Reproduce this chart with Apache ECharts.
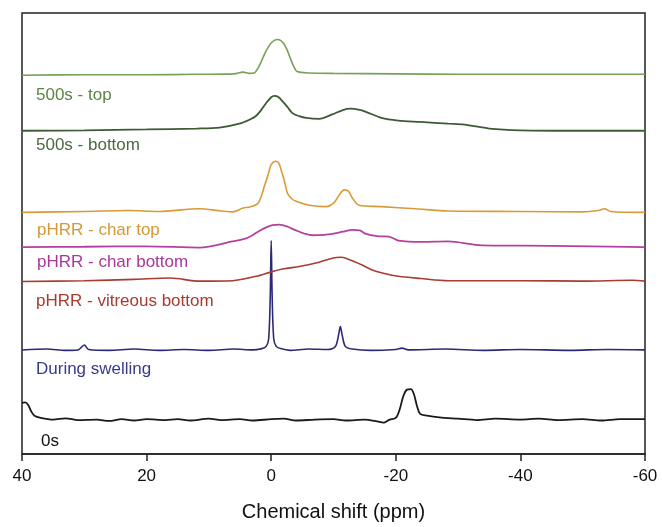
<!DOCTYPE html>
<html><head><meta charset="utf-8">
<script src="https://cdn.jsdelivr.net/npm/echarts@6/dist/echarts.min.js"></script>
<style>html,body{margin:0;padding:0;background:#fff;overflow:hidden}#c{width:662px;height:527px}</style>
</head><body><div id="c"></div>
<script>
// Chemical shift (ppm) vs stacked intensity (arbitrary units, 0-100 display scale)
const xTicks = [40, 20, 0, -20, -40, -60];
const seriesNames = ['500s - top', '500s - bottom', 'pHRR - char top', 'pHRR - char bottom', 'pHRR - vitreous bottom', 'During swelling', '0s'];

const s500top = [[40,85.9],[30,86.0],[20,86.0],[12,86.1],[6,86.2],[4.5,86.6],[3.5,86.3],[2.7,86.4],[2,87.8],[1.5,89.3],[1,90.9],[0.5,92.2],[0,93.2],[-0.5,93.8],[-1,94.0],[-1.5,93.8],[-2,93.1],[-2.5,91.8],[-3,90.0],[-3.5,88.2],[-4,86.9],[-4.5,86.6],[-6,86.4],[-10,86.3],[-20,86.2],[-30,86.1],[-60,86.1]];
const s500bottom = [[40,73.3],[30,73.4],[20,73.6],[12,73.8],[8.3,74.0],[5.1,74.9],[3.5,75.8],[2.4,76.7],[1.5,78.2],[0.8,79.6],[0,80.9],[-0.5,81.2],[-1.2,80.9],[-1.8,80.0],[-2.6,78.7],[-3.4,77.3],[-4.5,76.6],[-5.6,76.2],[-7.7,76.0],[-9.8,77.0],[-11.5,78.0],[-12.7,78.3],[-14,78.1],[-15.2,77.6],[-17.7,76.2],[-20.4,75.6],[-24,75.3],[-28.4,74.9],[-31,74.7],[-35,73.8],[-40,73.4],[-50,73.3],[-60,73.3]];
const sCharTop = [[40,54.8],[30,55.0],[23,55.2],[18,55.0],[11.6,55.6],[8,55.1],[6.2,54.9],[4.5,55.8],[3.5,56.0],[2.2,56.7],[1.6,58.4],[1.1,60.7],[0.5,63.3],[0,65.6],[-0.7,66.4],[-1.2,66.0],[-1.6,64.4],[-2.1,62.0],[-2.6,59.2],[-3.2,58.0],[-4,57.3],[-6.1,56.4],[-8.8,56.1],[-10.1,57.0],[-11,58.9],[-11.7,59.9],[-12.4,59.6],[-13,58.1],[-14.1,56.4],[-17.7,56.1],[-23.2,55.6],[-28.4,55.1],[-40,55.0],[-50,54.9],[-52.5,55.2],[-53.5,55.6],[-54.5,55.0],[-60,54.8]];
const sCharBottom = [[40,46.9],[30,47.0],[20,47.1],[11.5,46.8],[6.2,48.2],[4,48.9],[3,49.6],[1.8,50.7],[0.8,51.4],[-0.2,51.9],[-1.3,52.0],[-2.5,51.6],[-4,50.7],[-5.5,49.9],[-6.6,49.6],[-8.5,49.7],[-9.8,49.9],[-11.5,50.4],[-13,50.8],[-14.2,50.7],[-15.2,49.9],[-17,49.4],[-18.9,49.3],[-20.4,48.4],[-24.3,48.1],[-28.4,48.2],[-33.8,47.3],[-45,47.2],[-60,46.9]];
const sVitreous = [[40,39.1],[30,39.3],[22,39.6],[16.2,39.9],[11.5,39.2],[6.2,39.3],[2.4,40.3],[0,41.3],[-2,42.0],[-4.5,42.5],[-7.2,43.3],[-9.8,44.4],[-11.2,44.6],[-12,44.4],[-13,43.8],[-14.5,42.9],[-16.1,41.8],[-18,41.0],[-20.4,40.3],[-24,39.8],[-28.4,39.3],[-40,39.3],[-50,39.2],[-58,39.4],[-60,39.2]];
const sSwelling = [[40,23.6],[36,23.8],[33,23.5],[31,23.6],[30,24.7],[29.3,23.7],[26,23.5],[22,23.8],[18,23.5],[14,23.7],[10,23.5],[6,23.8],[3,23.6],[1.5,23.9],[0.8,24.4],[0.4,26.2],[0.15,36.0],[0,48.4],[-0.15,36.0],[-0.4,26.2],[-0.8,24.4],[-1.5,23.9],[-3,23.5],[-6,23.8],[-9,23.7],[-10.3,24.4],[-10.8,26.9],[-11.1,28.9],[-11.4,26.9],[-11.9,24.4],[-13,23.8],[-16,23.5],[-20,23.7],[-21,24.0],[-22,23.6],[-28,23.8],[-34,23.5],[-40,23.7],[-48,23.5],[-54,23.7],[-60,23.6]];
const s0s = [[40,11.6],[39.5,11.7],[39,11.1],[38.5,9.6],[38,8.7],[37,8.2],[35,7.8],[33,8.1],[31,7.7],[28,7.8],[26,7.5],[24,7.9],[22,7.6],[20,7.9],[17,7.7],[15,7.9],[13,7.6],[10,8.0],[8,7.7],[5,7.9],[3,7.6],[0,7.9],[-2,8.0],[-4,7.6],[-7,7.8],[-10,7.9],[-12,7.6],[-15,7.8],[-17,7.4],[-18,7.1],[-19,7.8],[-20,8.2],[-20.6,10.0],[-21.2,13.1],[-21.8,14.6],[-22.4,14.7],[-22.9,13.6],[-23.4,10.9],[-23.9,9.1],[-25,8.7],[-27,8.3],[-30,8.0],[-33,7.7],[-36,8.0],[-40,7.8],[-43,8.0],[-46,7.7],[-50,7.9],[-53,7.6],[-56,7.9],[-60,7.9]];

const allData = [s500top, s500bottom, sCharTop, sCharBottom, sVitreous, sSwelling, s0s];
const lineColors = ['#78a05a', '#3c5c34', '#d99a38', '#b6409e', '#a83c30', '#2c2a78', '#1a1a1a'];
const labelColors = ['#5c8444', '#4a6a3e', '#d49838', '#a8379a', '#a83a2e', '#3a3a8c', '#111111'];
const lineWidths = [1.6, 1.8, 1.6, 1.8, 1.6, 1.6, 1.8];
const labelPos = [[36, 97], [36, 147], [37, 232], [37, 264], [36, 303], [36, 371], [41, 443]];

const chart = echarts.init(document.getElementById('c'), null, {renderer: 'canvas'});
const FONT = '"Liberation Sans", Arial, sans-serif';
chart.setOption({
  animation: false,
  backgroundColor: '#fff',
  grid: {left: 22, right: 17, top: 13, bottom: 64, show: true, borderColor: '#222', borderWidth: 1.5},
  xAxis: {
    type: 'value', inverse: true, min: -60, max: 40, interval: 20,
    name: 'Chemical shift (ppm)', nameLocation: 'middle', nameGap: 48,
    nameTextStyle: {fontFamily: FONT, fontSize: 20, color: '#111'},
    axisLine: {show: true, lineStyle: {color: '#222', width: 1.5}},
    axisTick: {show: true, inside: false, length: 7, lineStyle: {color: '#222', width: 1.5}},
    axisLabel: {fontFamily: FONT, fontSize: 17, color: '#111', margin: 14},
    splitLine: {show: false}
  },
  yAxis: {type: 'value', min: 0, max: 100, show: false},
  series: allData.map((d, i) => ({
    name: seriesNames[i], type: 'line', data: d, showSymbol: false, symbol: 'none',
    smooth: 0.3, lineStyle: {color: lineColors[i], width: lineWidths[i]}, z: 10 - i
  })),
  graphic: seriesNames.map((n, i) => ({
    type: 'text', left: labelPos[i][0], top: labelPos[i][1] - 10,
    style: {text: n, fill: labelColors[i], font: '17px ' + FONT}
  }))
});
</script></body></html>
